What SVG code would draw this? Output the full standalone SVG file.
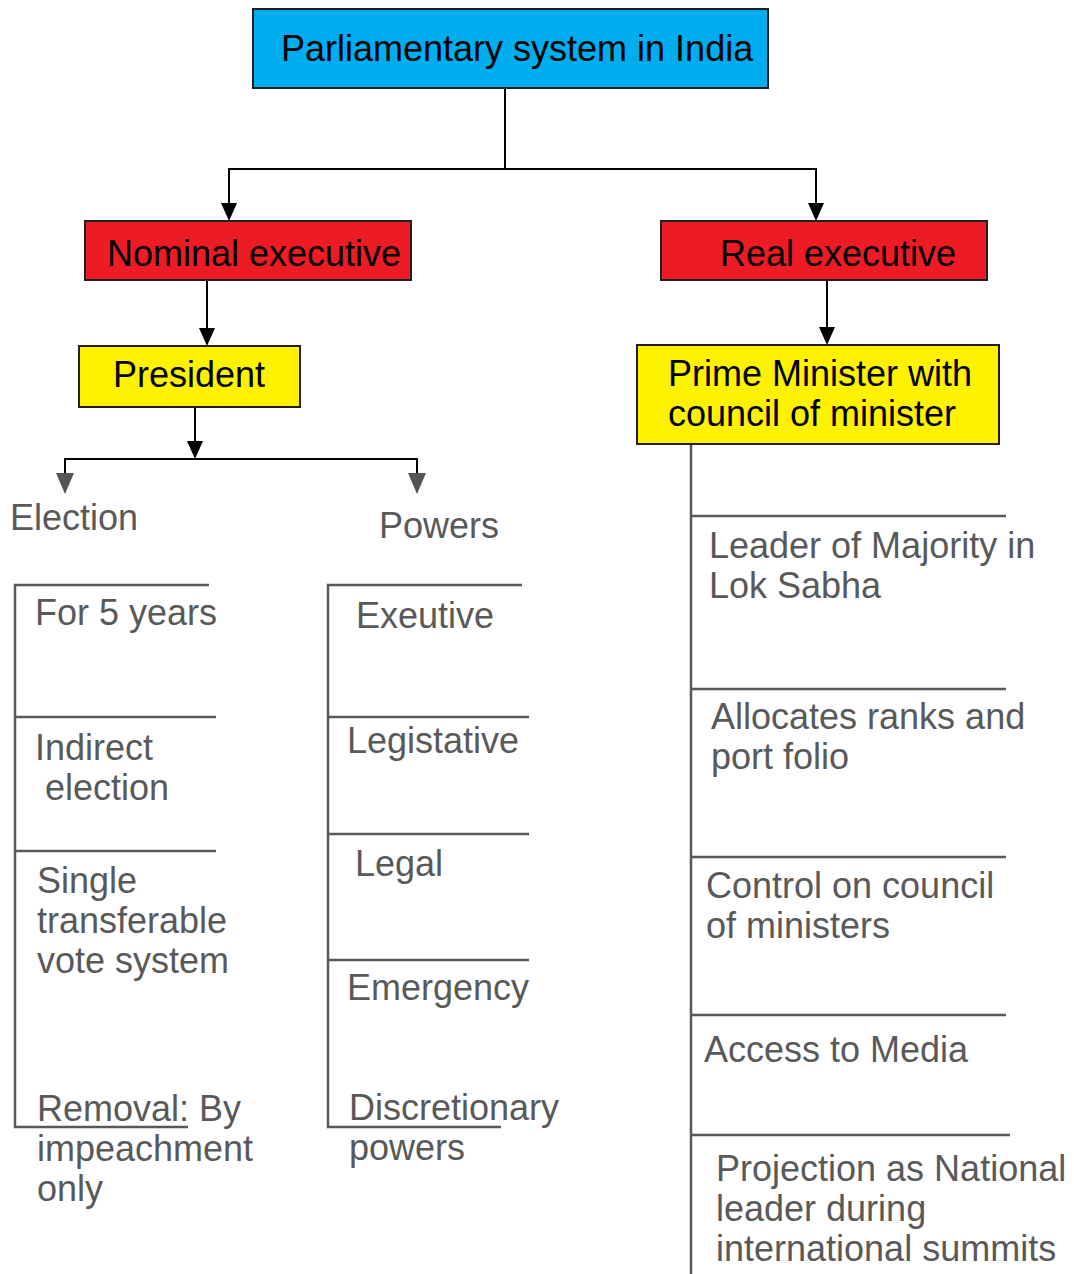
<svg xmlns="http://www.w3.org/2000/svg" width="1074" height="1274" viewBox="0 0 1074 1274">
<style>
.box{stroke:#231F20;stroke-width:2}
.nt{font-family:"Liberation Sans",Arial,sans-serif;font-size:36px;fill:#000}
.gt{font-family:"Liberation Sans",Arial,sans-serif;font-size:36px;fill:#595959}
.cn{stroke:#000;stroke-width:2;fill:none}
.gl{stroke:#595959;stroke-width:2.5;fill:none}
</style>
<rect width="1074" height="1274" fill="#fff"/>

<g id="connectors">
<line class="cn" x1="505" y1="88" x2="505" y2="169"/>
<polyline class="cn" points="229,210 229,169 816,169 816,210"/>
<polygon points="221,203 237,203 229,221" fill="#000"/>
<polygon points="808,203 824,203 816,221" fill="#000"/>
<line class="cn" x1="207" y1="280" x2="207" y2="332"/>
<polygon points="199,328 215,328 207,346" fill="#000"/>
<line class="cn" x1="827" y1="280" x2="827" y2="331"/>
<polygon points="819,327 835,327 827,345" fill="#000"/>
<line class="cn" x1="195" y1="407" x2="195" y2="445"/>
<polygon points="187,441 203,441 195,459" fill="#000"/>
<polyline class="cn" points="65,475 65,459 417,459 417,475"/>
<polygon points="56,473 74,473 65,494" fill="#555"/>
<polygon points="408,473 426,473 417,494" fill="#555"/>
<line class="gl" x1="691" y1="444" x2="691" y2="1274"/>
</g>

<g id="n-root">
<rect class="box" x="253" y="9" width="515" height="79" fill="#00AEEF"/>
<text class="nt" x="281" y="61">Parliamentary system in India</text>
</g>
<g id="n-nominal">
<rect class="box" x="85" y="221" width="326" height="59" fill="#ED1C24"/>
<text class="nt" x="107" y="266" fill="#231F20">Nominal executive</text>
</g>
<g id="n-real">
<rect class="box" x="661" y="221" width="326" height="59" fill="#ED1C24"/>
<text class="nt" x="720" y="266">Real executive</text>
</g>
<g id="n-president">
<rect class="box" x="79" y="346" width="221" height="61" fill="#FFF200"/>
<text class="nt" x="113" y="387">President</text>
</g>
<g id="n-pm">
<rect class="box" x="637" y="345" width="362" height="99" fill="#FFF200"/>
<text class="nt" x="668" y="386">Prime Minister with</text>
<text class="nt" x="668" y="426">council of minister</text>
</g>

<g id="n-election">
<text class="gt" x="10" y="530">Election</text>
</g>
<g id="n-powers">
<text class="gt" x="379" y="538">Powers</text>
</g>

<g id="n-election-list">
<polyline class="gl" points="209,585 15,585 15,1127 188,1127"/>
<line class="gl" x1="15" y1="717" x2="216" y2="717"/>
<line class="gl" x1="15" y1="851" x2="216" y2="851"/>
<text class="gt" x="35" y="625">For 5 years</text>
<text class="gt" x="35" y="760">Indirect</text>
<text class="gt" x="45" y="800">election</text>
<text class="gt" x="37" y="893">Single</text>
<text class="gt" x="37" y="933">transferable</text>
<text class="gt" x="37" y="973">vote system</text>
<text class="gt" x="37" y="1121">Removal: By</text>
<text class="gt" x="37" y="1161">impeachment</text>
<text class="gt" x="37" y="1201">only</text>
</g>

<g id="n-powers-list">
<polyline class="gl" points="522,585 328,585 328,1127 501,1127"/>
<line class="gl" x1="328" y1="717" x2="529" y2="717"/>
<line class="gl" x1="328" y1="834" x2="529" y2="834"/>
<line class="gl" x1="328" y1="960" x2="529" y2="960"/>
<text class="gt" x="356" y="628">Exeutive</text>
<text class="gt" x="347" y="753">Legistative</text>
<text class="gt" x="355" y="876">Legal</text>
<text class="gt" x="347" y="1000">Emergency</text>
<text class="gt" x="349" y="1120">Discretionary</text>
<text class="gt" x="349" y="1160">powers</text>
</g>

<g id="n-pm-list">
<line class="gl" x1="691" y1="516" x2="1006" y2="516"/>
<line class="gl" x1="691" y1="689" x2="1006" y2="689"/>
<line class="gl" x1="691" y1="857" x2="1006" y2="857"/>
<line class="gl" x1="691" y1="1015" x2="1006" y2="1015"/>
<line class="gl" x1="691" y1="1135" x2="1010" y2="1135"/>
<text class="gt" x="709" y="558">Leader of Majority in</text>
<text class="gt" x="709" y="598">Lok Sabha</text>
<text class="gt" x="711" y="729">Allocates ranks and</text>
<text class="gt" x="711" y="769">port folio</text>
<text class="gt" x="706" y="898">Control on council</text>
<text class="gt" x="706" y="938">of ministers</text>
<text class="gt" x="704" y="1062">Access to Media</text>
<text class="gt" x="716" y="1181">Projection as National</text>
<text class="gt" x="716" y="1221">leader during</text>
<text class="gt" x="716" y="1261">international summits</text>
</g>
</svg>
